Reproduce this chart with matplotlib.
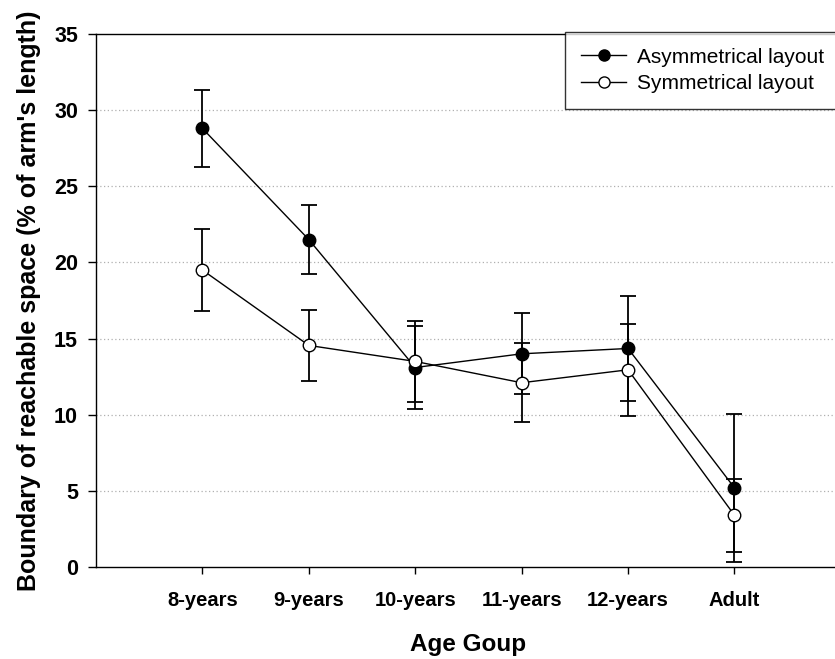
import matplotlib
matplotlib.use('Agg')
import matplotlib.pyplot as plt
from matplotlib.lines import Line2D
import numpy as np

plt.rcParams['font.family'] = ['Liberation Sans', 'DejaVu Sans']

# data
groups = ['8-years', '9-years', '10-years', '11-years', '12-years', 'Adult']
asym_mean = [28.8, 21.5, 13.1, 14.0, 14.35, 5.2]
asym_err = [2.55, 2.27, 2.72, 2.65, 3.45, 4.85]
sym_mean = [19.5, 14.55, 13.5, 12.1, 12.95, 3.4]
sym_err = [2.7, 2.35, 2.65, 2.6, 3.02, 2.4]

x = np.arange(1, len(groups) + 1)

fig = plt.figure(figsize=(8.35, 6.59), dpi=100)
ax = fig.add_axes([0.115, 0.1396, 0.892, 0.8088])

ax.errorbar(x, asym_mean, yerr=asym_err, color='black', marker='o', markersize=9,
            markerfacecolor='black', markeredgecolor='black', linewidth=1,
            elinewidth=1.3, capsize=5.5, capthick=1.3, zorder=3)
ax.errorbar(x, sym_mean, yerr=sym_err, color='black', marker='o', markersize=9,
            markerfacecolor='white', markeredgecolor='black', linewidth=1,
            elinewidth=1.3, capsize=5.5, capthick=1.3, zorder=3)

ax.set_xlim(0, 7)
ax.set_ylim(0, 35)
ax.set_yticks(range(0, 36, 5))
ax.set_xticks(x)
ax.set_xticklabels(groups, fontweight='bold', fontsize=14.5)
for lab in ax.get_yticklabels():
    lab.set_fontweight('bold')
    lab.set_fontsize(15.5)
ax.tick_params(axis='y', direction='out', length=6, width=1, pad=7)
ax.tick_params(axis='x', direction='out', length=5, width=1, pad=12)

for v in range(5, 35, 5):
    ax.axhline(v, color='#b0b0b0', linestyle=(0, (1, 2)), linewidth=0.9, zorder=0)

for s in ax.spines.values():
    s.set_linewidth(1)
ax.spines['right'].set_visible(False)

ax.set_xlabel('Age Goup', fontweight='bold', fontsize=17.5, labelpad=17)
ax.set_ylabel("Boundary of reachable space (% of arm's length)", fontweight='bold',
              fontsize=18, labelpad=9)

handles = [Line2D([], [], color='black', linewidth=1, marker='o', markersize=8,
                  markerfacecolor='black', markeredgecolor='black'),
           Line2D([], [], color='black', linewidth=1, marker='o', markersize=8,
                  markerfacecolor='white', markeredgecolor='black')]
leg = ax.legend(handles, ['Asymmetrical layout', 'Symmetrical layout'],
                loc='upper left', bbox_to_anchor=(565 / 835, 1 - 32 / 659),
                bbox_transform=fig.transFigure, fontsize=15, frameon=True,
                fancybox=False, edgecolor='black', borderpad=0.75,
                handlelength=2.2, handletextpad=0.5, labelspacing=0.35,
                borderaxespad=0)
leg.get_frame().set_linewidth(1)

fig.savefig('out.png', dpi=100)
